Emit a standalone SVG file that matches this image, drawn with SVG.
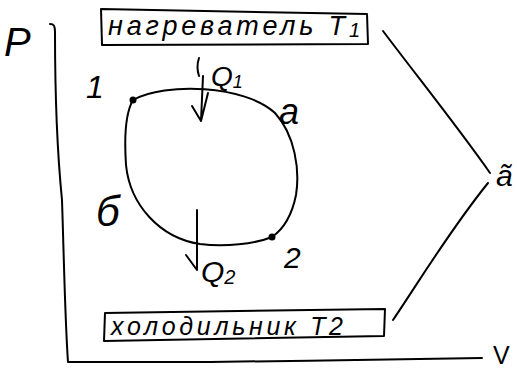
<svg xmlns="http://www.w3.org/2000/svg" width="517" height="373" viewBox="0 0 517 373">
<style>
.ln{fill:none;stroke:#000;stroke-width:2;stroke-linecap:round;stroke-linejoin:round}
.t{font-family:"Liberation Sans",Arial,sans-serif;font-style:italic;fill:#000}
</style>
<rect width="517" height="373" fill="#fff"/>
<g id="axes">
<path class="ln" d="M50,24 C54,24 55,26 55,32 C55,80 57,150 62,200 C64,260 65,320 68,362 L210,362 C300,361 400,359 482,358"/>
<text class="t" x="4" y="56" font-size="40">P</text>
<text x="493" y="364" font-size="25" font-family="Liberation Sans, Arial, sans-serif" fill="#000">V</text>
</g>
<g id="heater">
<path class="ln" d="M101,9 L367,14 L368,44 L102,45 Z"/>
<text class="t" x="108" y="35" font-size="27" textLength="252" lengthAdjust="spacing">нагреватель T<tspan font-size="20" dy="2">1</tspan></text>
</g>
<g id="cooler">
<path class="ln" d="M105,313 L385,309 L384,336 L104,341 Z"/>
<text class="t" x="111" y="335" font-size="25" textLength="232" lengthAdjust="spacing">холодильник T2</text>
</g>
<g id="cycle">
<path class="ln" d="M133,100 C165,82 245,85 275,113 C295,135 300,170 296,195 C292,215 285,228 272,237 C255,244 225,247 200,244 C160,238 130,205 126,165 C124,135 126,112 133,100 Z"/>
<circle cx="133" cy="100" r="3.5"/>
<circle cx="272" cy="237" r="3.5"/>
<text class="t" x="86" y="98" font-size="32">1</text>
<text class="t" x="284" y="268" font-size="30">2</text>
<text class="t" x="279" y="124" font-size="36">а</text>
<text class="t" x="96" y="226" font-size="42">б</text>
</g>
<g id="right-label">
<text class="t" x="496" y="186" font-size="30">ã</text>
</g>
<g id="connectors">
<path class="ln" d="M199,58 C197,64 197,70 199,76"/>
<path class="ln" d="M203,76 L201,121 M192,106 L201,121 L208,93"/>
<path class="ln" d="M197,210 L197,270 M186,255 L197,270"/>
<path class="ln" d="M383,31 C420,80 460,130 490,173"/>
<path class="ln" d="M488,183 C450,230 420,280 393,320"/>
</g>
<g id="heat-labels">
<text class="t" x="211" y="86" font-size="28">Q<tspan font-size="18" dy="2">1</tspan></text>
<text class="t" x="201" y="282" font-size="30">Q<tspan font-size="20" dy="2">2</tspan></text>
</g>
</svg>
